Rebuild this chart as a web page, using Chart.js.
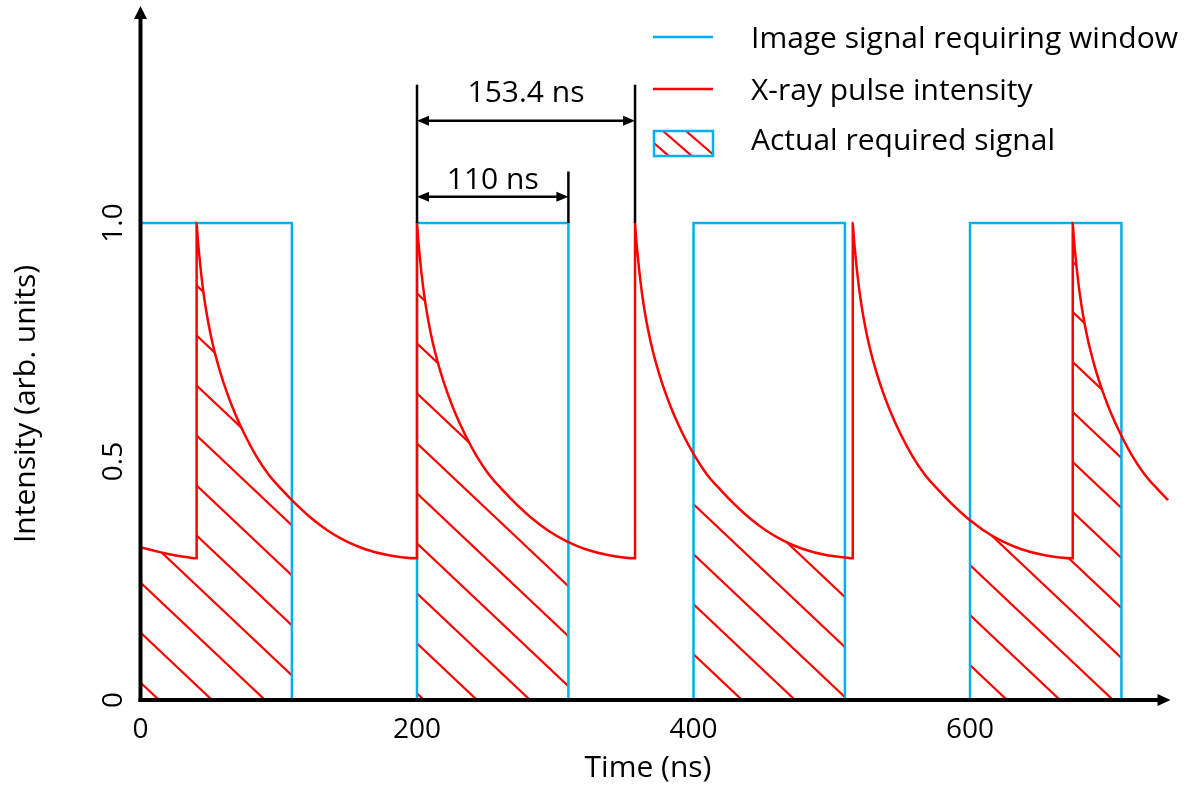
<!DOCTYPE html>
<html>
<head>
<meta charset="utf-8">
<script src="https://cdn.jsdelivr.net/npm/chart.js@4.4.0/dist/chart.umd.min.js"></script>
<style>
  html, body { margin: 0; padding: 0; background: #fff; }
</style>
</head>
<body>
<canvas id="pulseChart" width="1191" height="788"></canvas>
<script>
// imaging windows (ns)
const windowStart = [0, 200, 400, 600];
const windowEnd = [109.5, 309.5, 509.5, 709.5];
const windowLevel = 1.0;

// x-ray pulse intensity
const pulseTime = [
  0, 10, 20, 30, 40.6,
  40.6, 41.2, 42.1, 43.6, 45.6, 48.1, 50.6, 53.6, 57.6, 62.6, 68.6, 75.6, 83.6, 92.6, 102.6, 109.5, 112.6, 123.6, 135.6, 148.6, 162.6, 178.6, 200,
  200, 200.6, 201.5, 203, 205, 207.5, 210, 213, 217, 222, 228, 235, 243, 252, 262, 272, 283, 295, 308, 309.5, 322, 338, 357.7,
  357.7, 358.3, 359.2, 360.7, 362.7, 365.2, 367.7, 370.7, 374.7, 379.7, 385.7, 392.7, 400, 409.7, 419.7, 429.7, 440.7, 452.7, 465.7, 479.7, 495.7, 509.5, 515.2,
  515.2, 515.8, 516.7, 518.2, 520.2, 522.7, 525.2, 528.2, 532.2, 537.2, 543.2, 550.2, 558.2, 567.2, 577.2, 587.2, 598.2, 600, 610.2, 623.2, 637.2, 653.2, 674.3,
  674.3, 674.9, 675.8, 677.3, 679.3, 681.8, 684.3, 687.3, 691.3, 696.3, 702.3, 709.5, 717.3, 726.3, 736.3, 743.3
];
const pulseIntensity = [
  0.32, 0.313, 0.306, 0.301, 0.297,
  1.0, 0.975, 0.945, 0.901, 0.853, 0.806, 0.768, 0.730, 0.688, 0.644, 0.599, 0.555, 0.512, 0.473, 0.44, 0.419, 0.41, 0.381, 0.355, 0.333, 0.316, 0.304, 0.297,
  1.0, 0.975, 0.945, 0.901, 0.853, 0.806, 0.768, 0.730, 0.688, 0.644, 0.599, 0.555, 0.512, 0.473, 0.44, 0.41, 0.381, 0.355, 0.333, 0.331, 0.316, 0.304, 0.297,
  1.0, 0.975, 0.945, 0.901, 0.853, 0.806, 0.768, 0.730, 0.688, 0.644, 0.599, 0.555, 0.516, 0.473, 0.44, 0.41, 0.381, 0.355, 0.333, 0.316, 0.304, 0.299, 0.297,
  1.0, 0.975, 0.945, 0.901, 0.853, 0.806, 0.768, 0.730, 0.688, 0.644, 0.599, 0.555, 0.512, 0.473, 0.44, 0.41, 0.381, 0.377, 0.355, 0.333, 0.316, 0.304, 0.297,
  1.0, 0.975, 0.945, 0.901, 0.853, 0.806, 0.768, 0.730, 0.688, 0.644, 0.599, 0.554, 0.512, 0.473, 0.44, 0.419
];

const xTicks = [0, 200, 400, 600];
const yTicks = [0, 0.5, 1.0];
const yTickLabels = ['0', '0.5', '1.0'];
const legendLabels = ['Image signal requiring window', 'X-ray pulse intensity', 'Actual required signal'];
const spanLabels = ['153.4 ns', '110 ns'];

const BLUE = '#00B0F0';
const RED = '#FF0000';
const FAMILY = '"Open Sans"';
const FONT = '30px ' + FAMILY;
const TICK_FONT = '28px ' + FAMILY;

const canvas = document.getElementById('pulseChart');
const ctx = canvas.getContext('2d');

// diagonal hatch used for the "actual required signal"
function makeHatch(w, h, lw) {
  const c = document.createElement('canvas');
  c.width = w; c.height = h;
  const g = c.getContext('2d');
  g.strokeStyle = RED;
  g.lineWidth = lw;
  for (let k = -1; k <= 1; k++) {
    g.beginPath();
    g.moveTo(-w, -h + k * h);
    g.lineTo(2 * w, 2 * h + k * h);
    g.stroke();
  }
  return ctx.createPattern(c, 'repeat');
}
const hatch = makeHatch(53, 50, 2.2);

const redPoints = pulseTime.map((t, i) => ({ x: t, y: pulseIntensity[i] }));

const windowPoints = [];
windowStart.forEach((s, i) => {
  windowPoints.push({ x: s, y: 0 }, { x: s, y: windowLevel },
    { x: windowEnd[i], y: windowLevel }, { x: windowEnd[i], y: 0 }, { x: windowEnd[i] + 1, y: null });
});

const hatchSets = windowStart.map((s, i) => ({
  label: 'hatch' + i,
  data: redPoints.filter(p => p.x >= s && p.x <= windowEnd[i]),
  borderColor: 'rgba(0,0,0,0)',
  borderWidth: 0,
  backgroundColor: hatch,
  fill: 'origin',
  pointRadius: 0,
  cubicInterpolationMode: 'monotone'
}));

const overlay = {
  id: 'overlay',
  afterDraw(chart) {
    const c = chart.ctx;
    const a = chart.chartArea;
    const xs = chart.scales.x, ys = chart.scales.y;
    const x0 = xs.getPixelForValue(0), y0 = ys.getPixelForValue(0);
    c.save();

    // axes with arrow heads
    c.strokeStyle = '#000'; c.fillStyle = '#000'; c.lineWidth = 4;
    c.beginPath(); c.moveTo(x0, y0 + 2); c.lineTo(x0, a.top + 10); c.stroke();
    c.beginPath(); c.moveTo(x0 - 2, y0); c.lineTo(a.right - 10, y0); c.stroke();
    c.beginPath(); c.moveTo(x0, a.top); c.lineTo(x0 - 6.5, a.top + 13); c.lineTo(x0 + 6.5, a.top + 13); c.closePath(); c.fill();
    c.beginPath(); c.moveTo(a.right, y0); c.lineTo(a.right - 13, y0 - 6); c.lineTo(a.right - 13, y0 + 6); c.closePath(); c.fill();

    // y tick labels, rotated
    c.font = TICK_FONT;
    c.textAlign = 'center';
    c.textBaseline = 'alphabetic';
    yTicks.forEach((v, i) => {
      c.save();
      c.translate(122, ys.getPixelForValue(v));
      c.rotate(-Math.PI / 2);
      c.fillText(yTickLabels[i], 0, 0);
      c.restore();
    });

    // axis titles
    c.font = FONT;
    c.save();
    c.translate(35, 404);
    c.rotate(-Math.PI / 2);
    c.fillText('Intensity (arb. units)', 0, 0);
    c.restore();
    c.fillText('Time (ns)', 648, 777);

    // dimension arrows
    function arrow(xa, xb, y) {
      c.lineWidth = 2.5;
      c.beginPath(); c.moveTo(xa + 8, y); c.lineTo(xb - 8, y); c.stroke();
      c.beginPath(); c.moveTo(xa, y); c.lineTo(xa + 12, y - 5); c.lineTo(xa + 12, y + 5); c.closePath(); c.fill();
      c.beginPath(); c.moveTo(xb, y); c.lineTo(xb - 12, y - 5); c.lineTo(xb - 12, y + 5); c.closePath(); c.fill();
    }
    function tick(x, yTopVal) {
      c.lineWidth = 2.5;
      c.beginPath(); c.moveTo(x, ys.getPixelForValue(yTopVal)); c.lineTo(x, ys.getPixelForValue(windowLevel)); c.stroke();
    }
    const xL = xs.getPixelForValue(windowStart[1]);
    const xP = xs.getPixelForValue(357.7);
    const xW = xs.getPixelForValue(windowEnd[1]);
    tick(xL, 1.29); tick(xP, 1.29); tick(xW, 1.108);
    arrow(xL, xP, ys.getPixelForValue(1.2146));
    arrow(xL, xW, ys.getPixelForValue(1.055));
    c.fillText(spanLabels[0], (xL + xP) / 2, ys.getPixelForValue(1.2529));
    c.fillText(spanLabels[1], (xL + xW) / 2, ys.getPixelForValue(1.072));

    // legend
    c.textAlign = 'left';
    c.lineWidth = 2.5;
    c.strokeStyle = BLUE;
    c.beginPath(); c.moveTo(653, 37); c.lineTo(713, 37); c.stroke();
    c.strokeStyle = RED;
    c.beginPath(); c.moveTo(653, 89); c.lineTo(713, 89); c.stroke();
    c.save();
    c.beginPath(); c.rect(654, 131, 59, 25); c.clip();
    c.strokeStyle = RED; c.lineWidth = 2.2;
    [640, 663, 686].forEach(sx => {
      c.beginPath(); c.moveTo(sx, 131); c.lineTo(sx + 30, 157); c.stroke();
    });
    c.restore();
    c.strokeStyle = BLUE; c.lineWidth = 2.5;
    c.strokeRect(654, 131, 59, 25);
    c.fillStyle = '#000';
    c.fillText(legendLabels[0], 751, 48);
    c.fillText(legendLabels[1], 751, 100);
    c.fillText(legendLabels[2], 751, 150);

    c.restore();
  }
};

new Chart(ctx, {
  type: 'line',
  data: {
    datasets: [
      {
        label: legendLabels[1],
        data: redPoints,
        borderColor: RED,
        borderWidth: 2.5,
        pointRadius: 0,
        fill: false,
        cubicInterpolationMode: 'monotone'
      },
      {
        label: legendLabels[0],
        data: windowPoints,
        borderColor: BLUE,
        borderWidth: 2.5,
        pointRadius: 0,
        fill: false,
        spanGaps: false,
        tension: 0
      },
      ...hatchSets
    ]
  },
  options: {
    responsive: false,
    animation: false,
    devicePixelRatio: 1,
    layout: { padding: { top: 6, right: 20.5, left: 0, bottom: 0 } },
    plugins: {
      legend: { display: false },
      tooltip: { enabled: false }
    },
    scales: {
      x: {
        type: 'linear',
        min: 0,
        max: 745,
        grid: { display: false },
        border: { display: false },
        afterBuildTicks: scale => { scale.ticks = xTicks.map(v => ({ value: v })); },
        afterFit: scale => { scale.height = 88; },
        ticks: {
          color: '#000',
          padding: 5,
          font: { family: FAMILY, size: 28 },
          callback: v => String(v)
        }
      },
      y: {
        type: 'linear',
        min: 0,
        max: 1.455,
        grid: { display: false },
        border: { display: false },
        afterBuildTicks: scale => { scale.ticks = yTicks.map(v => ({ value: v })); },
        afterFit: scale => { scale.width = 140.5; },
        ticks: { display: false }
      }
    }
  },
  plugins: [overlay]
});
</script>
</body>
</html>
